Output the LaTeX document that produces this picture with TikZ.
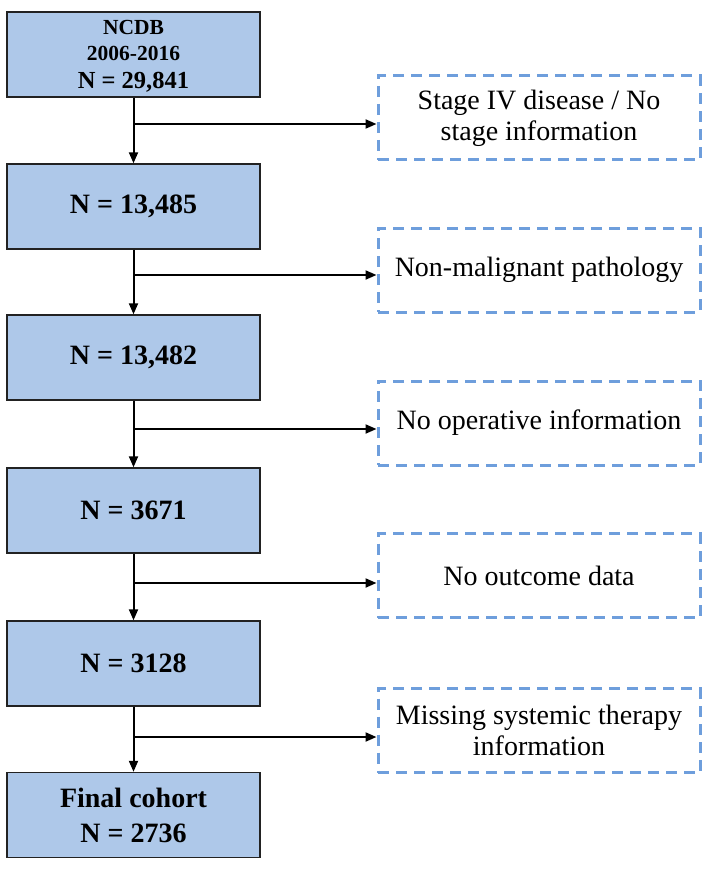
\documentclass[tikz,border=0pt]{standalone}
\usepackage{fontspec}
\setmainfont{Liberation Serif}
\usetikzlibrary{arrows.meta,calc}
\definecolor{boxfill}{HTML}{AEC8E9}
\definecolor{dashblue}{HTML}{6E9EDC}
\definecolor{boxline}{HTML}{222222}
\tikzset{
  mainbox/.style={draw=boxline, line width=1.4pt, fill=boxfill, minimum width=253pt, minimum height=85pt, inner sep=0pt, align=center, font=\bfseries\fontsize{28}{35}\selectfont},
  exclbox/.style={draw=dashblue, line width=3pt, dash pattern=on 11pt off 7pt, minimum width=322pt, minimum height=84pt, inner sep=0pt, align=center, font=\fontsize{28}{31}\selectfont},
  flow/.style={line width=2pt, -{Triangle[length=11pt,width=9pt]}},
}
\begin{document}
\begin{tikzpicture}[x=1pt,y=-1pt]
\useasboundingbox (0,0) rectangle (708,869);
\node[mainbox] (m1) at (133.5,54.5) {};
\node[inner sep=0pt, align=center, font=\bfseries\fontsize{21.5}{26}\selectfont] (m1t) at (133.5,56.5) {NCDB\\2006-2016\\[2pt]{\fontsize{24.5}{29}\selectfont N = 29,841}};
\node[mainbox] (m2) at (133.5,206.5) {N = 13,485};
\node[mainbox] (m3) at (133.5,357.5) {N = 13,482};
\node[mainbox] (m4) at (133.5,510.5) {N = 3671};
\node[mainbox] (m5) at (133.5,663.5) {N = 3128};
\node[mainbox] (m6) at (133.5,815) {Final cohort\\N = 2736};

\node[exclbox] (d1) at (539,118) {Stage IV disease / No\\stage information};
\node[exclbox] (d2) at (539,270) {Non-malignant pathology};
\node[exclbox] (d3) at (539,423) {No operative information};
\node[exclbox] (d4) at (539,575.5) {No outcome data};
\node[exclbox] (d5) at (539,730.5) {Missing systemic therapy\\information};

\coordinate (b1) at (133.5,124);
\coordinate (b2) at (133.5,275);
\coordinate (b3) at (133.5,429);
\coordinate (b4) at (133.5,583);
\coordinate (b5) at (133.5,737);

\draw[flow] (m1.south) -- (m2.north);
\draw[flow] (m2.south) -- (m3.north);
\draw[flow] (m3.south) -- (m4.north);
\draw[flow] (m4.south) -- (m5.north);
\draw[flow] (m5.south) -- (m6.north);

\draw[flow] (b1) -- (b1 -| d1.west);
\draw[flow] (b2) -- (b2 -| d2.west);
\draw[flow] (b3) -- (b3 -| d3.west);
\draw[flow] (b4) -- (b4 -| d4.west);
\draw[flow] (b5) -- (b5 -| d5.west);
\end{tikzpicture}
\end{document}
